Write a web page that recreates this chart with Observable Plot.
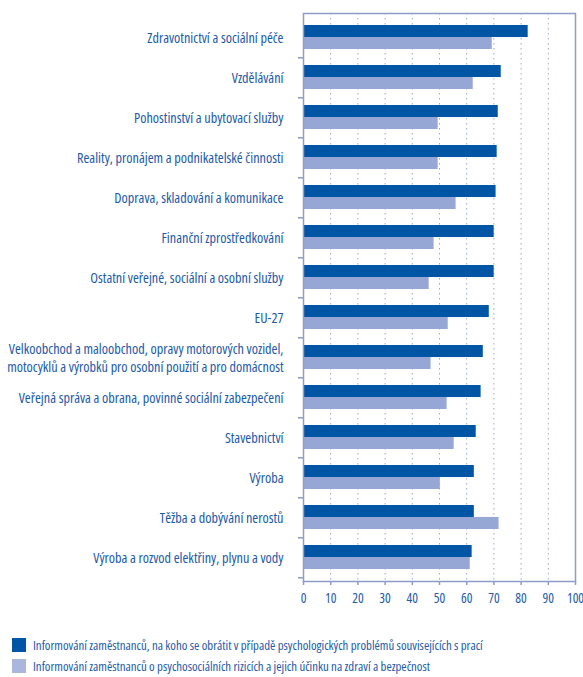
<!DOCTYPE html>
<html>
<head>
<meta charset="utf-8">
<script src="https://cdn.jsdelivr.net/npm/d3@7"></script>
<script src="https://cdn.jsdelivr.net/npm/@observablehq/plot@0.6"></script>
<style>
  body { margin: 0; background: #fff; font-family: "Open Sans", sans-serif; font-stretch: 75%; }
  svg text { font-stretch: 75%; }
  #legend { margin-top: 16px; }
  .row { display: flex; align-items: center; height: 21px; padding-left: 12px; }
  .sw { width: 14px; height: 14px; margin-right: 7px; flex: none; }
  .lab { font-size: 12.8px; color: #1d5aa6; white-space: nowrap; font-stretch: 75%; }
</style>
</head>
<body>
<div id="chart"></div>
<div id="legend"></div>
<script>
const categories = [
  "Zdravotnictví a sociální péče",
  "Vzdělávání",
  "Pohostinství a ubytovací služby",
  "Reality, pronájem a podnikatelské činnosti",
  "Doprava, skladování a komunikace",
  "Finanční zprostředkování",
  "Ostatní veřejné, sociální a osobní služby",
  "EU-27",
  "Velkoobchod a maloobchod, opravy motorových vozidel,\nmotocyklů a výrobků pro osobní použití a pro domácnost",
  "Veřejná správa a obrana, povinné sociální zabezpečení",
  "Stavebnictví",
  "Výroba",
  "Těžba a dobývání nerostů",
  "Výroba a rozvod elektřiny, plynu a vody"
];
const seriesNames = [
  "Informování zaměstnanců, na koho se obrátit v případě psychologických problémů souvisejících s prací",
  "Informování zaměstnanců o psychosociálních rizicích a jejich účinku na zdraví a bezpečnost"
];
const seriesA = [82.6, 72.7, 71.6, 71.2, 70.8, 70.1, 70.1, 68.3, 66.1, 65.3, 63.5, 62.8, 62.8, 62.0];
const seriesB = [69.4, 62.4, 49.5, 49.5, 56.1, 48.0, 46.2, 53.2, 46.9, 52.8, 55.4, 50.3, 71.9, 61.3];
const xTicks = [0, 10, 20, 30, 40, 50, 60, 70, 80, 90, 100];
const colors = ["#0055a5", "#97a7d5"];

const rows = categories.map((c, i) => ({cat: c, a: seriesA[i], b: seriesB[i]}));

const W = 583, H = 618, mT = 13, mB = 37, mL = 303, mR = 8;
const step = (H - mT - mB) / categories.length;
const pad = 0.41;
const bw = step * (1 - pad);
const textColor = "#1d5aa6";
const lineColor = "#8e9cc8";

const chart = Plot.plot({
  width: W, height: H,
  marginTop: mT, marginBottom: mB, marginLeft: mL, marginRight: mR,
  style: {fontFamily: "'Open Sans', sans-serif", background: "#fff"},
  x: {domain: [0, 100]},
  y: {domain: categories, paddingInner: pad, paddingOuter: pad / 2},
  marks: [
    Plot.gridX(xTicks.slice(1, -1), {stroke: "#9aa6d4", strokeOpacity: 1, strokeDasharray: "1.5,3.5", strokeWidth: 1}),
    Plot.barX(rows, {y: "cat", x: "a", fill: colors[0], insetBottom: bw / 2}),
    Plot.barX(rows, {y: "cat", x: "b", fill: colors[1], insetTop: bw / 2}),
    Plot.frame({stroke: lineColor, strokeWidth: 1.5}),
    Plot.axisY({tickSize: 0, tickPadding: 20, fontSize: 14.2, color: textColor, label: null, lineHeight: 1.22}),
    Plot.axisY({tickSize: 5, tickFormat: () => "", dy: step / 2, stroke: lineColor, strokeWidth: 1.5, label: null}),
    Plot.axisX(xTicks, {tickSize: 4, tickPadding: 8, fontSize: 13.5, color: textColor, stroke: lineColor, strokeWidth: 1.5, label: null})
  ]
});
document.getElementById("chart").appendChild(chart);
chart.querySelectorAll("text").forEach(t => t.setAttribute("fill", textColor));

const legend = document.getElementById("legend");
seriesNames.forEach((n, i) => {
  const r = document.createElement("div");
  r.className = "row";
  const s = document.createElement("div");
  s.className = "sw";
  s.style.background = i === 0 ? colors[0] : "#abb6dc";
  const l = document.createElement("span");
  l.className = "lab";
  l.textContent = n;
  r.appendChild(s); r.appendChild(l);
  legend.appendChild(r);
});
</script>
</body>
</html>
